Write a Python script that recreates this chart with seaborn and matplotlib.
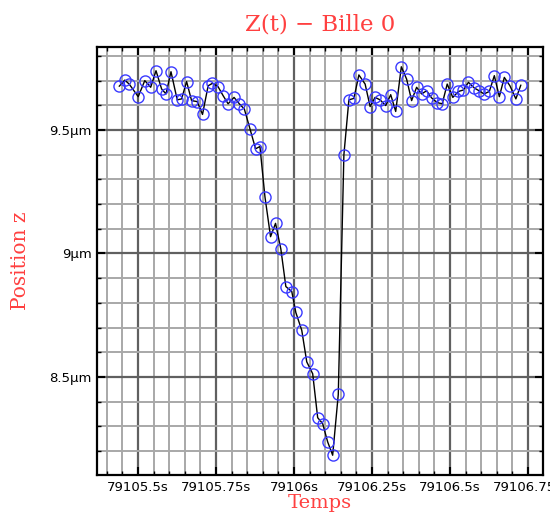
import numpy as np
import pandas as pd
import matplotlib
matplotlib.use("Agg")
import matplotlib.pyplot as plt
import seaborn as sns
from matplotlib.ticker import FixedLocator, MultipleLocator

# Temps (s) et position z (um) de la bille 0
temps = [
    79105.440, 79105.458, 79105.472, 79105.501, 79105.522, 79105.541, 79105.558,
    79105.576, 79105.590, 79105.606, 79105.626, 79105.640, 79105.656, 79105.672,
    79105.690, 79105.707, 79105.725, 79105.739, 79105.757, 79105.773, 79105.789,
    79105.808, 79105.825, 79105.841, 79105.859, 79105.877, 79105.891, 79105.907,
    79105.925, 79105.941, 79105.958, 79105.974, 79105.993, 79106.006, 79106.025,
    79106.041, 79106.060, 79106.076, 79106.092, 79106.108, 79106.124, 79106.142,
    79106.160, 79106.176, 79106.192, 79106.208, 79106.228, 79106.244, 79106.260,
    79106.276, 79106.294, 79106.310, 79106.326, 79106.344, 79106.361, 79106.377,
    79106.393, 79106.409, 79106.425, 79106.441, 79106.459, 79106.475, 79106.491,
    79106.509, 79106.527, 79106.543, 79106.559, 79106.578, 79106.593, 79106.609,
    79106.626, 79106.642, 79106.658, 79106.674, 79106.692, 79106.711, 79106.727,
]
position_z = [
    9.677, 9.702, 9.686, 9.635, 9.700, 9.673, 9.740,
    9.666, 9.646, 9.736, 9.622, 9.626, 9.696, 9.619,
    9.615, 9.563, 9.679, 9.689, 9.675, 9.639, 9.606,
    9.632, 9.606, 9.585, 9.505, 9.424, 9.433, 9.230,
    9.068, 9.122, 9.018, 8.866, 8.846, 8.761, 8.689,
    8.561, 8.513, 8.335, 8.311, 8.237, 8.183, 8.429,
    9.400, 9.622, 9.628, 9.723, 9.686, 9.595, 9.632,
    9.622, 9.599, 9.643, 9.575, 9.756, 9.706, 9.619,
    9.673, 9.646, 9.659, 9.630, 9.611, 9.606, 9.686,
    9.632, 9.656, 9.662, 9.693, 9.670, 9.659, 9.646,
    9.656, 9.720, 9.635, 9.713, 9.679, 9.626, 9.682,
]

xticks = [79105.5, 79105.75, 79106.0, 79106.25, 79106.5, 79106.75]
xtick_labels = ["79105.5s", "79105.75s", "79106s", "79106.25s", "79106.5s", "79106.75s"]
yticks = [8.5, 9.0, 9.5]
ytick_labels = ["8.5μm", "9μm", "9.5μm"]

rouge = "#ff4040"
bleu = "#3a3aff"

sns.set_style("white")
plt.rcParams["font.family"] = ["DejaVu Sans"]

df = pd.DataFrame({"t": temps, "z": position_z})

fig = plt.figure(figsize=(5.5, 5.15), dpi=100)
ax = fig.add_axes([0.1764, 0.0777, 0.8109, 0.831])

sns.lineplot(data=df, x="t", y="z", ax=ax, estimator=None, sort=False,
             color="black", linewidth=1.0, marker="o", markersize=8,
             markerfacecolor="none", markeredgecolor=bleu, markeredgewidth=1.0,
             zorder=5)

ax.set_xlim(79105.369, 79106.798)
ax.set_ylim(8.103, 9.836)

ax.xaxis.set_major_locator(FixedLocator(xticks))
ax.xaxis.set_minor_locator(MultipleLocator(0.05))
ax.yaxis.set_major_locator(FixedLocator(yticks))
ax.yaxis.set_minor_locator(MultipleLocator(0.1))
ax.set_xticklabels(xtick_labels)
ax.set_yticklabels(ytick_labels)

ax.grid(True, which="minor", color="#a8a8a8", linewidth=1.4, zorder=0)
ax.grid(True, which="major", color="#606060", linewidth=1.6, zorder=1)
ax.set_axisbelow(True)

ax.tick_params(which="both", direction="in", top=True, right=True,
               bottom=True, left=True, colors="black")
ax.tick_params(which="major", length=6, width=1.5, labelsize=9.5, pad=4)
ax.tick_params(which="minor", length=3, width=1.0)

for sp in ax.spines.values():
    sp.set_color("black")
    sp.set_linewidth(1.6)

serif = ["DejaVu Serif"]
ax.set_title("Z(t) − Bille 0", color=rouge, fontsize=16.5, family=serif, pad=12)
ax.set_xlabel("Temps", color=rouge, fontsize=14, family=serif, labelpad=0)
ax.set_ylabel("Position z", color=rouge, fontsize=14.5, family=serif, labelpad=14)

fig.savefig("out.png", dpi=100)
